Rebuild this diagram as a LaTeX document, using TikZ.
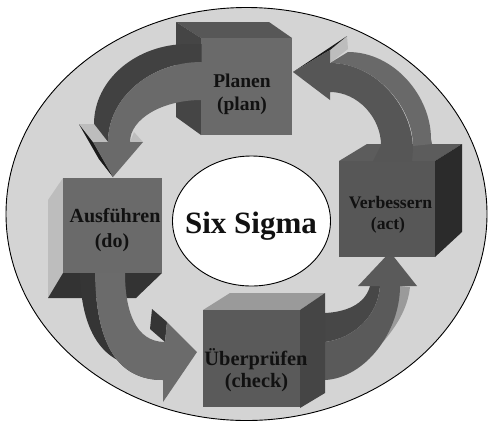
\documentclass[tikz,border=0pt]{standalone}
\usepackage{fontspec}
\setmainfont{Liberation Serif}
\begin{document}
\begin{tikzpicture}[x=1pt,y=-1pt,line join=round]
\definecolor{bg}{HTML}{D4D4D4}
\definecolor{txt}{HTML}{111111}
\definecolor{planFront}{HTML}{6A6A6A}
\definecolor{planTop}{HTML}{575757}
\definecolor{planLeft}{HTML}{454545}
\definecolor{ausFront}{HTML}{6A6A6A}
\definecolor{ausLeft}{HTML}{BDBDBD}
\definecolor{ausBottom}{HTML}{333333}
\definecolor{uebFront}{HTML}{5A5A5A}
\definecolor{uebTop}{HTML}{9A9A9A}
\definecolor{uebRight}{HTML}{454545}
\definecolor{verFront}{HTML}{575757}
\definecolor{verTop}{HTML}{5C5C5C}
\definecolor{verRight}{HTML}{2B2B2B}
\definecolor{aFront}{HTML}{6A6A6A}
\definecolor{aExt}{HTML}{414141}
\definecolor{bFront}{HTML}{565656}
\definecolor{bExt}{HTML}{696969}
\definecolor{cFront}{HTML}{6B6B6B}
\definecolor{cExt}{HTML}{353535}
\definecolor{dFront}{HTML}{5A5A5A}
\definecolor{dExt}{HTML}{474747}
\definecolor{wingLight}{HTML}{BDBDBD}
\definecolor{wedge}{HTML}{1A1A1A}
\tikzset{
  lbl/.style={text=txt,inner sep=0pt,anchor=base,font=\bfseries\fontsize{20}{24}\selectfont},
  lblsmall/.style={lbl,font=\bfseries\fontsize{17.6}{21}\selectfont}
}
\useasboundingbox (0,0) rectangle (489,429);
\fill[white] (0,0) rectangle (489,429);
% outer disc
\draw[fill=bg,line width=0.9pt] (246.5,214) ellipse [x radius=240.5, y radius=206.5];
% centre
\draw[fill=white,line width=0.9pt] (251.5,221) ellipse [x radius=79, y radius=65];
\node[text=txt,inner sep=0pt,anchor=base,font=\bfseries\fontsize{31}{36}\selectfont] (six) at (251,233) {Six Sigma};

% ---- arrow D (check -> act)
\fill[uebTop] (400,286) -- (410,287) .. controls (408,305) and (400,322) .. (383,342) -- cycle;
\fill[dExt] (325,313) .. controls (345,312) and (365,305) .. (370,286) -- (380,286) .. controls (378,315) and (355,338) .. (325,342) -- cycle;
\fill[dFront] (325,342) -- (325,380) .. controls (365,378) and (400,332) .. (400,286) -- (417,286) -- (390,252) -- (358,286) -- (380,286) .. controls (378,315) and (355,338) .. (325,342) -- cycle;

% ---- box Ueberpruefen
\fill[uebTop] (203,310) -- (230,293) -- (325,293) -- (300,310) -- cycle;
\fill[uebRight] (300,310) -- (325,293) -- (325,393) -- (300,408) -- cycle;
\fill[uebFront] (203,310) rectangle (300,407);

% ---- box Verbessern
\fill[verTop] (339,161) -- (367,144) -- (462,144) -- (435,161) -- cycle;
\fill[verRight] (435,161) -- (462,144) -- (462,232) -- (435,257) -- cycle;
\fill[verFront] (339,161) rectangle (435,257);

% ---- arrow B (act -> plan)
\fill[bExt] (330,63) .. controls (376,63) and (413,107) .. (413,146) -- (432,144) -- (431,139) .. controls (431,96) and (394,52) .. (348,52) -- cycle;
\fill[wingLight] (330,50) -- (347,36) -- (348,49) -- (330,63) -- cycle;
\fill[wedge] (293,72) -- (347,36) -- (330,50) -- cycle;
\fill[bFront] (293,72) -- (330,50) -- (330,63) .. controls (376,63) and (413,107) .. (413,150) -- (412,161) -- (373,161) -- (381,145) .. controls (381,118) and (358,92) .. (330,92) -- (330,100) -- cycle;

% ---- box Planen
\fill[planTop] (176,22) -- (269,22) -- (292,38) -- (201,38) -- cycle;
\fill[planLeft] (176,22) -- (201,38) -- (201,135) -- (176,117) -- cycle;
\fill[planFront] (201,38) rectangle (292,135);

% ---- arrow A (plan -> do)
\fill[aExt] (201.5,62) .. controls (150,62) and (108,98) .. (108,142) -- (93,142) -- (113,177) -- (99,159) -- (79,124) -- (94,124) .. controls (94,80) and (136,44) .. (188,44) -- (201.5,44) -- cycle;
\fill[wedge] (93,142) -- (113,177) -- (99,159) -- (79,124) -- cycle;
\fill[wingLight] (79,124) -- (94,124) -- (108,142) -- (93,142) -- cycle;
\fill[wingLight] (130,142) -- (143,142) -- (134,132) -- cycle;
\fill[aFront] (201.5,62) .. controls (150,62) and (108,98) .. (108,142) -- (93,142) -- (113,177) -- (143,142) -- (130,142) .. controls (130,119) and (162,100) .. (201.5,100) -- cycle;

% ---- box Ausfuehren
\fill[ausLeft] (48,200) -- (63,178) -- (63,273) -- (48,298) -- cycle;
\fill[ausBottom] (63,273) -- (162,273) -- (136,298) -- (48,298) -- cycle;
\fill[ausFront] (63,178) rectangle (162,273);

% ---- arrow C (do -> check)
\fill[cExt] (95,273) .. controls (96,340) and (115,380) .. (163,380) -- (148,367) .. controls (100,367) and (81,327) .. (80,273) -- cycle;
\fill[cExt] (152,309) -- (167,322) -- (165,342) -- (150,329) -- cycle;
\fill[cFront] (95,273) .. controls (96,340) and (115,380) .. (163,380) -- (163,402) -- (197,352) -- (167,322) -- (165,342) .. controls (135,342) and (125,310) .. (125,273) -- cycle;

% ---- labels
\node[lbl,font=\bfseries\fontsize{19.5}{24}\selectfont] (plan1) at (242,87) {Planen};
\node[lbl,font=\bfseries\fontsize{19.5}{24}\selectfont] (plan2) at (242,110) {(plan)};
\node[lbl] (do1) at (115,222) {Ausführen};
\node[lbl] (do2) at (112,247) {(do)};
\node[lblsmall] (act1) at (390.5,208) {Verbessern};
\node[lblsmall] (act2) at (388,229) {(act)};
\node[lbl,font=\bfseries\fontsize{20.4}{24}\selectfont] (chk1) at (256,365) {Überprüfen};
\node[lbl,font=\bfseries\fontsize{20.4}{24}\selectfont] (chk2) at (256.5,387) {(check)};
\end{tikzpicture}
\end{document}
